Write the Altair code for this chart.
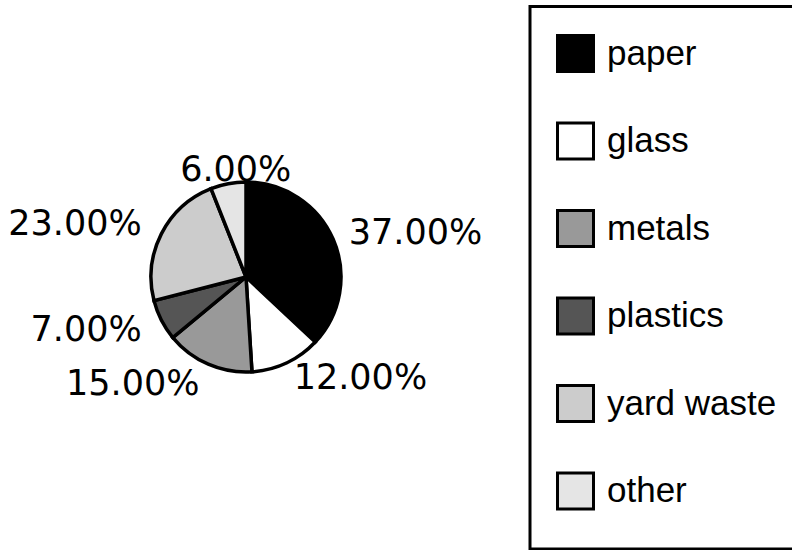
import math
import altair as alt
import pandas as pd

# Composition of municipal solid waste (percent of total)
categories = ["paper", "glass", "metals", "plastics", "yard waste", "other"]
shares = [37, 12, 15, 7, 23, 6]
shades = ["#000000", "#ffffff", "#999999", "#555555", "#cccccc", "#e5e5e5"]

df = pd.DataFrame({"category": categories, "share": shares})

theta_scale = alt.Scale(domain=[0, 100], range=[0, 2 * math.pi])

base = alt.Chart(df).transform_window(
    cum="sum(share)", frame=[None, 0]
).transform_calculate(
    start="datum.cum - datum.share",
    mid="datum.cum - datum.share / 2",
    label="format(datum.share, '.2f') + '%'",
)

pie = base.mark_arc(outerRadius=95, stroke="black", strokeWidth=3.5).encode(
    theta=alt.Theta("start:Q", scale=theta_scale),
    theta2="cum:Q",
    fill=alt.Fill(
        "category:N",
        scale=alt.Scale(domain=categories, range=shades),
        legend=alt.Legend(
            title=None,
            orient="none",
            legendX=510,
            legendY=30,
            symbolType="square",
            symbolSize=1296,
            symbolStrokeColor="black",
            symbolStrokeWidth=3,
            symbolOpacity=1,
            labelFont="Liberation Sans",
            labelFontSize=35,
            labelColor="black",
            labelOffset=12,
            labelLimit=400,
            rowPadding=38.5,
            padding=0,
        ),
    ),
)

text_style = dict(font="DejaVu Sans", fontSize=35, color="black", baseline="middle")

right_labels = base.transform_filter("datum.mid < 50").mark_text(
    radius=112, align="left", **text_style
).encode(theta=alt.Theta("mid:Q", scale=theta_scale), text="label:N")

left_labels = base.transform_filter("datum.mid >= 50 && datum.mid < 90").mark_text(
    radius=117, align="right", **text_style
).encode(theta=alt.Theta("mid:Q", scale=theta_scale), text="label:N")

top_labels = base.transform_filter("datum.mid >= 90").mark_text(
    radius=108, align="center", dx=10, dy=-1, **text_style
).encode(theta=alt.Theta("mid:Q", scale=theta_scale), text="label:N")

# Frame around the legend
frame = alt.Chart(pd.DataFrame({"k": [0]})).mark_rect(
    filled=False, stroke="black", strokeWidth=3
).encode(
    x=alt.value(484), x2=alt.value(760), y=alt.value(2.5), y2=alt.value(545)
)

chart = alt.layer(pie, right_labels, left_labels, top_labels, frame).properties(
    width=400,
    height=546,
    padding={"left": 46, "top": 4, "right": 346, "bottom": 0},
    autosize="none",
    background="white",
).configure_view(stroke=None)

chart.save("out.html", embed_options={"renderer": "svg", "actions": False})
